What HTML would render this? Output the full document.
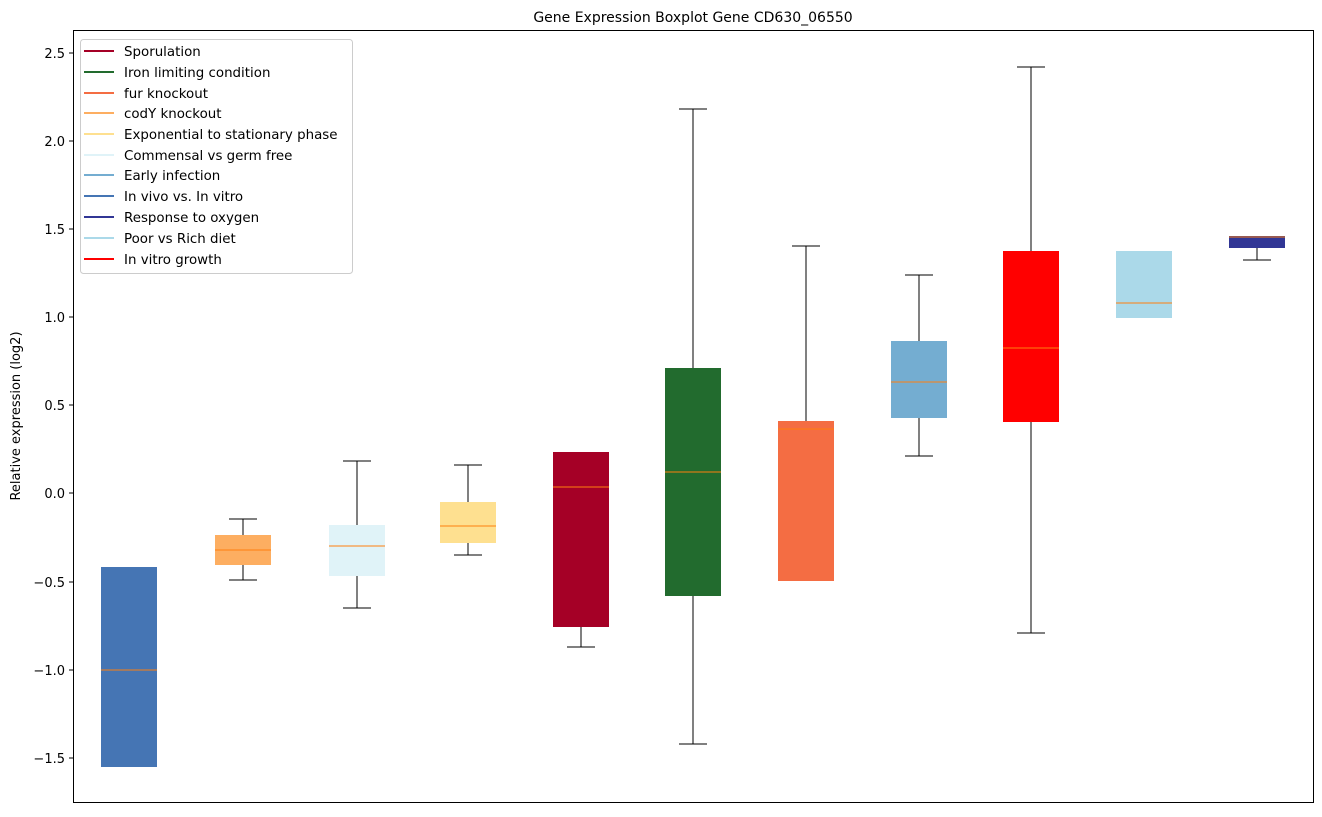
<!DOCTYPE html>
<html><head><style>body{margin:0;background:#fff}svg{font-family:"DejaVu Sans","Liberation Sans",sans-serif}</style></head><body>
<svg width="1322" height="812" xmlns="http://www.w3.org/2000/svg">
<rect width="1322" height="812" fill="#fff"/>
<text x="693" y="22" font-size="14" text-anchor="middle">Gene Expression Boxplot Gene CD630_06550</text>
<g stroke="#000" stroke-width="1.2" shape-rendering="crispEdges">
<line x1="243" y1="519" x2="243" y2="535"/><line x1="243" y1="565" x2="243" y2="580"/><line x1="229" y1="519" x2="257" y2="519"/><line x1="229" y1="580" x2="257" y2="580"/>
<line x1="357" y1="461" x2="357" y2="525"/><line x1="357" y1="576" x2="357" y2="608"/><line x1="343" y1="461" x2="371" y2="461"/><line x1="343" y1="608" x2="371" y2="608"/>
<line x1="468" y1="465" x2="468" y2="502"/><line x1="468" y1="543" x2="468" y2="555"/><line x1="454" y1="465" x2="482" y2="465"/><line x1="454" y1="555" x2="482" y2="555"/>
<line x1="581" y1="627" x2="581" y2="647"/><line x1="567" y1="647" x2="595" y2="647"/>
<line x1="693" y1="109" x2="693" y2="368"/><line x1="693" y1="596" x2="693" y2="744"/><line x1="679" y1="109" x2="707" y2="109"/><line x1="679" y1="744" x2="707" y2="744"/>
<line x1="806" y1="246" x2="806" y2="421"/><line x1="792" y1="246" x2="820" y2="246"/>
<line x1="919" y1="275" x2="919" y2="341"/><line x1="919" y1="418" x2="919" y2="456"/><line x1="905" y1="275" x2="933" y2="275"/><line x1="905" y1="456" x2="933" y2="456"/>
<line x1="1031" y1="67" x2="1031" y2="251"/><line x1="1031" y1="422" x2="1031" y2="633"/><line x1="1017" y1="67" x2="1045" y2="67"/><line x1="1017" y1="633" x2="1045" y2="633"/>
<line x1="1257" y1="248" x2="1257" y2="260"/><line x1="1243" y1="260" x2="1271" y2="260"/>
</g>
<g>
<rect x="101" y="567" width="56" height="200" fill="#4575b4"/>
<rect x="215" y="535" width="56" height="30" fill="#fdae61"/>
<rect x="329" y="525" width="56" height="51" fill="#e0f3f8"/>
<rect x="440" y="502" width="56" height="41" fill="#fee090"/>
<rect x="553" y="452" width="56" height="175" fill="#a50026"/>
<rect x="665" y="368" width="56" height="228" fill="#226b2e"/>
<rect x="778" y="421" width="56" height="160" fill="#f46d43"/>
<rect x="891" y="341" width="56" height="77" fill="#74add1"/>
<rect x="1003" y="251" width="56" height="171" fill="#ff0000"/>
<rect x="1116" y="251" width="56" height="67" fill="#abd9e9"/>
<rect x="1229" y="236" width="56" height="12" fill="#313695"/>
</g>
<g stroke="#ff7f0e" stroke-width="1.2" shape-rendering="crispEdges">
<line x1="101" y1="670" x2="157" y2="670"/><line x1="215" y1="550" x2="271" y2="550"/><line x1="329" y1="546" x2="385" y2="546"/><line x1="440" y1="526" x2="496" y2="526"/><line x1="553" y1="487" x2="609" y2="487"/><line x1="665" y1="472" x2="721" y2="472"/><line x1="778" y1="429" x2="834" y2="429"/><line x1="891" y1="382" x2="947" y2="382"/><line x1="1003" y1="348" x2="1059" y2="348"/><line x1="1116" y1="303" x2="1172" y2="303"/><line x1="1229" y1="237" x2="1285" y2="237"/>
</g>
<rect x="73.5" y="30.5" width="1240" height="772" fill="none" stroke="#000"/>
<g stroke="#000" shape-rendering="crispEdges">
<line x1="69" y1="53" x2="73" y2="53"/><line x1="69" y1="141" x2="73" y2="141"/><line x1="69" y1="229" x2="73" y2="229"/><line x1="69" y1="317" x2="73" y2="317"/><line x1="69" y1="405" x2="73" y2="405"/><line x1="69" y1="493" x2="73" y2="493"/><line x1="69" y1="582" x2="73" y2="582"/><line x1="69" y1="670" x2="73" y2="670"/><line x1="69" y1="758" x2="73" y2="758"/>
</g>
<g font-size="13" text-anchor="end" fill="#000">
<text x="65" y="58">2.5</text><text x="65" y="146">2.0</text><text x="65" y="234">1.5</text><text x="65" y="322">1.0</text><text x="65" y="410">0.5</text><text x="65" y="498">0.0</text><text x="65" y="587">−0.5</text><text x="65" y="675">−1.0</text><text x="65" y="763">−1.5</text>
</g>
<text x="20" y="416" font-size="13" text-anchor="middle" transform="rotate(-90 20 416)">Relative expression (log2)</text>
<rect x="80.5" y="39.5" width="272" height="234" rx="3" fill="#fff" fill-opacity="0.8" stroke="#ccc"/>
<g font-size="13.4" stroke-width="2">
<line x1="84" y1="51" x2="114" y2="51" stroke="#a50026"/><text x="124" y="56">Sporulation</text>
<line x1="84" y1="72" x2="114" y2="72" stroke="#226b2e"/><text x="124" y="77">Iron limiting condition</text>
<line x1="84" y1="93" x2="114" y2="93" stroke="#f46d43"/><text x="124" y="98">fur knockout</text>
<line x1="84" y1="113" x2="114" y2="113" stroke="#fdae61"/><text x="124" y="118">codY knockout</text>
<line x1="84" y1="134" x2="114" y2="134" stroke="#fee090"/><text x="124" y="139">Exponential to stationary phase</text>
<line x1="84" y1="155" x2="114" y2="155" stroke="#e0f3f8"/><text x="124" y="160">Commensal vs germ free</text>
<line x1="84" y1="175" x2="114" y2="175" stroke="#74add1"/><text x="124" y="180">Early infection</text>
<line x1="84" y1="196" x2="114" y2="196" stroke="#4575b4"/><text x="124" y="201">In vivo vs. In vitro</text>
<line x1="84" y1="217" x2="114" y2="217" stroke="#313695"/><text x="124" y="222">Response to oxygen</text>
<line x1="84" y1="238" x2="114" y2="238" stroke="#abd9e9"/><text x="124" y="243">Poor vs Rich diet</text>
<line x1="84" y1="259" x2="114" y2="259" stroke="#ff0000"/><text x="124" y="264">In vitro growth</text>
</g>
</svg>
</body></html>
